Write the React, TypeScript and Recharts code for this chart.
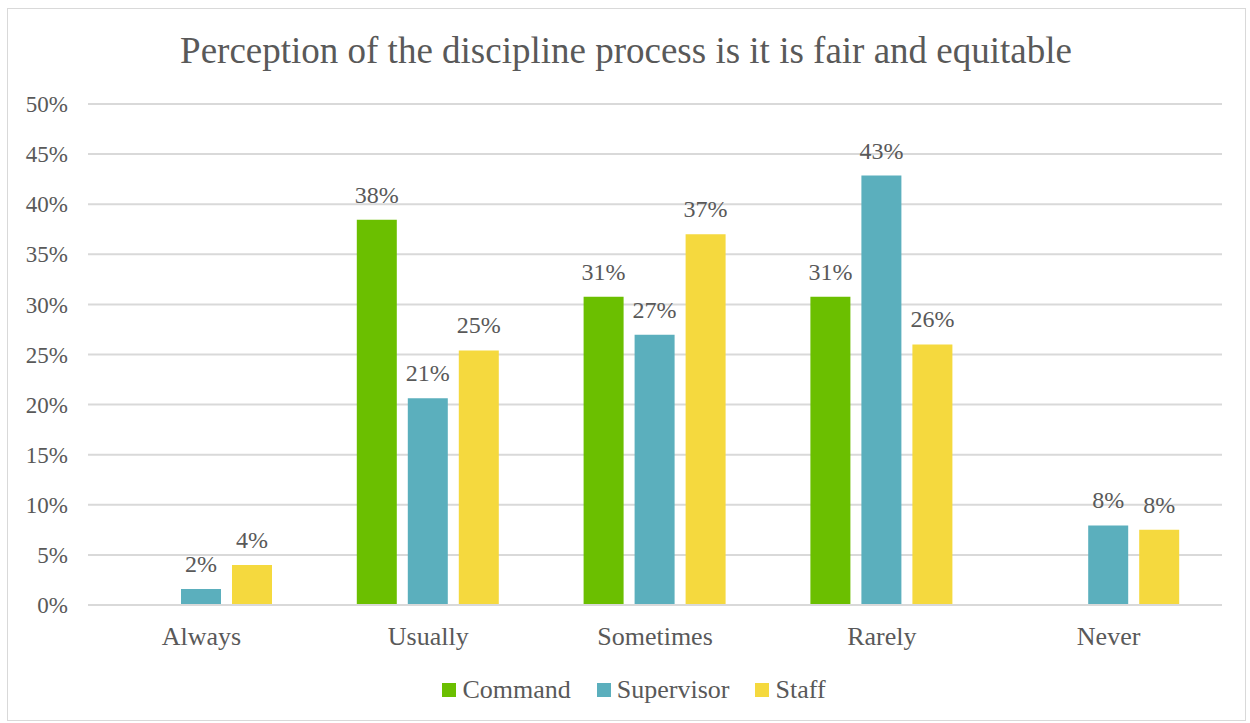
import { BarChart, Bar, XAxis, YAxis, CartesianGrid, LabelList } from 'recharts'

const categories = ['Always', 'Usually', 'Sometimes', 'Rarely', 'Never']
const command: (number | null)[] = [null, 38.46, 30.77, 30.77, null]
const supervisor = [1.59, 20.63, 26.98, 42.86, 7.94]
const staff = [4.0, 25.4, 37.0, 26.0, 7.5]
const yTicks = [0, 5, 10, 15, 20, 25, 30, 35, 40, 45, 50]

const series = [
  { key: 'command', name: 'Command', color: '#6bbf00' },
  { key: 'supervisor', name: 'Supervisor', color: '#5bafbd' },
  { key: 'staff', name: 'Staff', color: '#f5d93e' },
]

const data = categories.map((c, i) => ({
  category: c,
  command: command[i],
  supervisor: supervisor[i],
  staff: staff[i],
}))

const FONT = 'Liberation Serif'
const TEXT = '#595959'

const pct = (v: any) => (v == null ? '' : `${Math.round(Number(v))}%`)

export default function App() {
  return (
    <div style={{ position: 'absolute', left: 0, top: 0, width: 1250, height: 723, background: '#fff', fontFamily: FONT }}>
      <div style={{ position: 'absolute', left: 7, top: 8, width: 1237, height: 711, border: '1px solid #d9d9d9' }} />
      <div style={{ position: 'absolute', left: 0, top: 30, width: 1252, textAlign: 'center', fontSize: 37, lineHeight: 1.15, color: TEXT, fontFamily: FONT, whiteSpace: 'nowrap' }}>
        Perception of the discipline process is it is fair and equitable
      </div>
      <div style={{ position: 'absolute', left: 0, top: 0 }}>
        <BarChart width={1250} height={723} data={data} margin={{ top: 104, right: 28, left: 0, bottom: 58 }} barSize={40} barGap={11}>
          <CartesianGrid vertical={false} stroke="#d9d9d9" strokeWidth={2} />
          <XAxis
            dataKey="category"
            axisLine={{ stroke: '#d9d9d9', strokeWidth: 2 }}
            tickLine={false}
            tickMargin={16}
            height={60}
            tick={{ fill: TEXT, fontSize: 26, fontFamily: FONT }}
          />
          <YAxis
            width={88}
            domain={[0, 50]}
            ticks={yTicks}
            interval={0}
            axisLine={false}
            tickLine={false}
            tickMargin={14}
            tickFormatter={(v: number) => `${v}%`}
            tick={{ fill: TEXT, fontSize: 23, fontFamily: FONT }}
          />
          {series.map(s => (
            <Bar key={s.key} dataKey={s.key} name={s.name} fill={s.color} isAnimationActive={false}>
              <LabelList dataKey={s.key} position="top" offset={17} formatter={pct} fill={TEXT} fontSize={24} fontFamily={FONT} />
            </Bar>
          ))}
        </BarChart>
      </div>
      <div style={{ position: 'absolute', left: 0, top: 675, width: 1294, display: 'flex', justifyContent: 'center', fontSize: 26, lineHeight: '30px', color: TEXT, fontFamily: FONT }}>
        {series.map(s => (
          <div key={s.key} style={{ display: 'flex', alignItems: 'center', marginRight: 26 }}>
            <span style={{ width: 14, height: 14, background: s.color, marginRight: 6, display: 'inline-block' }} />
            <span>{s.name}</span>
          </div>
        ))}
      </div>
    </div>
  )
}
